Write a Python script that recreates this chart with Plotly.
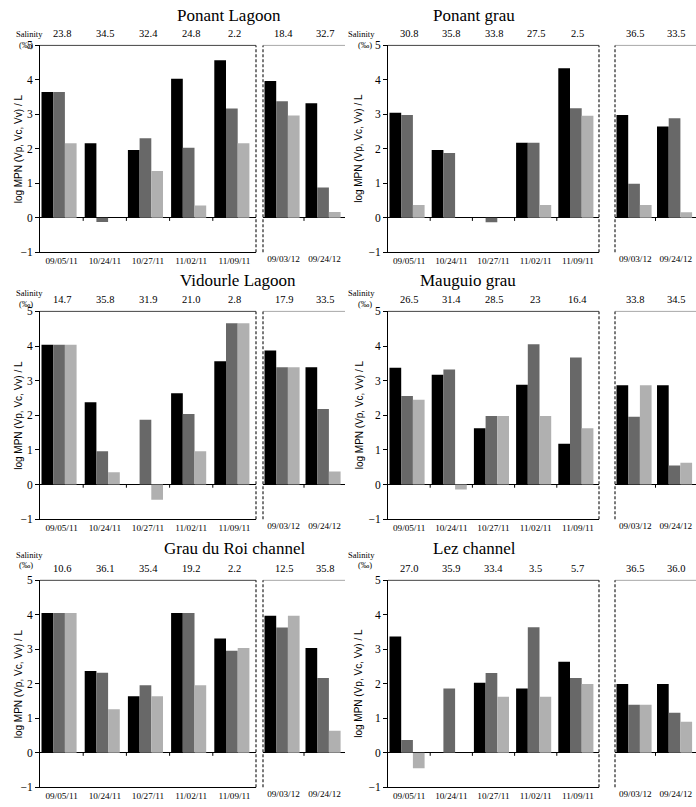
import plotly.graph_objects as go

# ---------------- data ----------------
dates_left = ["09/05/11", "10/24/11", "10/27/11", "11/02/11", "11/09/11"]
dates_right = ["09/03/12", "09/24/12"]
series_names = ["Vp", "Vc", "Vv"]
y_ticks = [-1, 0, 1, 2, 3, 4, 5]

site_titles = ["Ponant Lagoon", "Ponant grau", "Vidourle Lagoon",
               "Mauguio grau", "Grau du Roi channel", "Lez channel"]

ponant_lagoon_vp = [3.65, 2.16, 1.97, 4.03, 4.57, 3.97, 3.32]
ponant_lagoon_vc = [3.65, -0.12, 2.31, 2.03, 3.17, 3.38, 0.88]
ponant_lagoon_vv = [2.16, None, 1.36, 0.36, 2.16, 2.97, 0.17]
ponant_lagoon_sal = ["23.8", "34.5", "32.4", "24.8", "2.2", "18.4", "32.7"]

ponant_grau_vp = [3.05, 1.97, None, 2.18, 4.34, 2.98, 2.65]
ponant_grau_vc = [2.98, 1.88, -0.13, 2.18, 3.18, 0.99, 2.89]
ponant_grau_vv = [0.37, None, None, 0.37, 2.96, 0.37, 0.16]
ponant_grau_sal = ["30.8", "35.8", "33.8", "27.5", "2.5", "36.5", "33.5"]

vidourle_vp = [4.04, 2.38, None, 2.64, 3.56, 3.87, 3.39]
vidourle_vc = [4.04, 0.96, 1.87, 2.04, 4.66, 3.39, 2.18]
vidourle_vv = [4.04, 0.36, -0.44, 0.96, 4.66, 3.39, 0.38]
vidourle_sal = ["14.7", "35.8", "31.9", "21.0", "2.8", "17.9", "33.5"]

mauguio_vp = [3.37, 3.17, 1.63, 2.88, 1.18, 2.87, 2.87]
mauguio_vc = [2.56, 3.32, 1.98, 4.05, 3.67, 1.96, 0.55]
mauguio_vv = [2.45, -0.14, 1.98, 1.98, 1.63, 2.87, 0.63]
mauguio_sal = ["26.5", "31.4", "28.5", "23", "16.4", "33.8", "34.5"]

grau_roi_vp = [4.05, 2.37, 1.64, 4.05, 3.31, 3.97, 3.04]
grau_roi_vc = [4.05, 2.32, 1.96, 4.05, 2.96, 3.63, 2.17]
grau_roi_vv = [4.05, 1.26, 1.64, 1.96, 3.04, 3.97, 0.64]
grau_roi_sal = ["10.6", "36.1", "35.4", "19.2", "2.2", "12.5", "35.8"]

lez_vp = [3.37, None, 2.03, 1.86, 2.64, 1.99, 1.99]
lez_vc = [0.37, 1.86, 2.31, 3.64, 2.17, 1.39, 1.16]
lez_vv = [-0.45, None, 1.62, 1.62, 1.99, 1.39, 0.90]
lez_sal = ["27.0", "35.9", "33.4", "3.5", "5.7", "36.5", "36.0"]

sites = [
    (ponant_lagoon_vp, ponant_lagoon_vc, ponant_lagoon_vv, ponant_lagoon_sal),
    (ponant_grau_vp, ponant_grau_vc, ponant_grau_vv, ponant_grau_sal),
    (vidourle_vp, vidourle_vc, vidourle_vv, vidourle_sal),
    (mauguio_vp, mauguio_vc, mauguio_vv, mauguio_sal),
    (grau_roi_vp, grau_roi_vc, grau_roi_vv, grau_roi_sal),
    (lez_vp, lez_vc, lez_vv, lez_sal),
]

# ---------------- styling / layout ----------------
W, H = 696, 807
colors = ["#000000", "#686868", "#b0b0b0"]
SERIF = "Liberation Serif, Times New Roman, serif"
SANS = "Liberation Sans, Arial, sans-serif"

cols = [dict(ax=40, lend=256, rstart=263, rend=345),
        dict(ax=388, lend=599, rstart=615, rend=696)]
rows = [dict(top=40, bot=250, title_y=10),
        dict(top=310, bot=521, title_y=279),
        dict(top=583, bot=793, title_y=551)]
title_x = [175, 517, 178, 518, 162, 518]

BAR_PX = 11.7
START_PX = 1.5

def px(x):
    return x / W

def py(y):
    return 1 - y / H

fig = go.Figure()
layout = dict(width=W, height=H, margin=dict(l=0, r=0, t=0, b=0),
              paper_bgcolor="white", plot_bgcolor="white",
              showlegend=False, barmode="overlay")
shapes = []
annotations = []

axis_idx = 0
for p, (vp, vc, vv, sal) in enumerate(sites):
    c = cols[p % 2]
    r = rows[p // 2]
    series = [vp, vc, vv]
    boxes = [
        (dates_left, list(range(0, 5)), c["ax"], c["lend"], True),
        (dates_right, list(range(5, 7)), c["rstart"], c["rend"], False),
    ]
    for cats, idxs, x0, x1, is_left in boxes:
        axis_idx += 1
        n = axis_idx
        xa = "x" if n == 1 else f"x{n}"
        ya = "y" if n == 1 else f"y{n}"
        xk = "xaxis" if n == 1 else f"xaxis{n}"
        yk = "yaxis" if n == 1 else f"yaxis{n}"
        cat_px = (x1 - x0) / len(cats)
        width = BAR_PX / cat_px
        for k in range(3):
            vals = [series[k][i] for i in idxs]
            fig.add_trace(go.Bar(
                x=cats, y=vals, name=series_names[k],
                marker=dict(color=colors[k], line=dict(width=0)),
                width=width,
                offset=-0.5 + (START_PX + k * BAR_PX) / cat_px,
                xaxis=xa, yaxis=ya, hoverinfo="skip"))
        layout[xk] = dict(
            domain=[px(x0), px(x1)], anchor=ya, type="category",
            range=[-0.5, len(cats) - 0.5],
            showline=is_left, linecolor="black", linewidth=1,
            ticks="", showgrid=False, zeroline=False,
            tickfont=dict(family=SERIF, size=9.2, color="black"),
            fixedrange=True)
        layout[yk] = dict(
            domain=[py(r["bot"]), py(r["top"])], anchor=xa,
            range=[-1, 5], tickvals=y_ticks,
            showticklabels=is_left, showline=is_left,
            linecolor="black", linewidth=1,
            ticks="outside" if is_left else "", ticklen=4, tickcolor="black",
            showgrid=False, zeroline=True, zerolinecolor="black",
            zerolinewidth=1,
            tickfont=dict(family=SERIF, size=11.5, color="black"),
            fixedrange=True)
        # top border line
        shapes.append(dict(type="line", xref=f"{xa} domain", yref=f"{ya} domain",
                           x0=0, x1=1, y0=1, y1=1,
                           line=dict(color="#444444" if is_left else "#a8a8a8",
                                     width=1)))
        # dashed separator
        shapes.append(dict(type="line", xref=f"{xa} domain", yref=f"{ya} domain",
                           x0=1 if is_left else 0, x1=1 if is_left else 0,
                           y0=0, y1=1,
                           line=dict(color="#333333", width=1.3, dash="3px,2px")))
        # small ticks on the zero line between categories
        for j in range(1, len(cats)):
            shapes.append(dict(type="line", xref=xa, yref=ya,
                               x0=j - 0.5, x1=j - 0.5, y0=0, y1=-0.09,
                               line=dict(color="black", width=1)))
        # salinity values
        for cat, i in zip(cats, idxs):
            annotations.append(dict(
                xref=xa, yref=f"{ya} domain", x=cat, y=1, yshift=12,
                text=sal[i], showarrow=False, yanchor="middle",
                font=dict(family=SERIF, size=10.5, color="black")))
        if is_left:
            annotations.append(dict(
                xref="paper", yref=f"{ya} domain",
                x=px(c["ax"] - 29), y=0.5, text="log MPN (Vp, Vc, Vv) / L",
                textangle=-90, showarrow=False,
                font=dict(family=SANS, size=10, color="black")))
            annotations.append(dict(
                xref="paper", yref="paper",
                x=px(c["ax"] - 26), y=py(r["top"] - 19), text="Salinity",
                showarrow=False, font=dict(family=SERIF, size=8.5, color="black")))
            annotations.append(dict(
                xref="paper", yref="paper",
                x=px(c["ax"] - 23), y=py(r["top"] - 8), text="(‰)",
                showarrow=False, font=dict(family=SERIF, size=8.5, color="black")))
    annotations.append(dict(
        xref="paper", yref="paper", x=px(title_x[p]), y=py(r["title_y"]),
        text=site_titles[p], showarrow=False, yanchor="middle",
        font=dict(family=SERIF, size=17, color="black")))

layout["shapes"] = shapes
layout["annotations"] = annotations
fig.update_layout(**layout)
fig.write_html(
    "out.html",
    config={"displayModeBar": False},
    post_script="document.body.style.margin='0';document.body.style.overflow='hidden';",
)
